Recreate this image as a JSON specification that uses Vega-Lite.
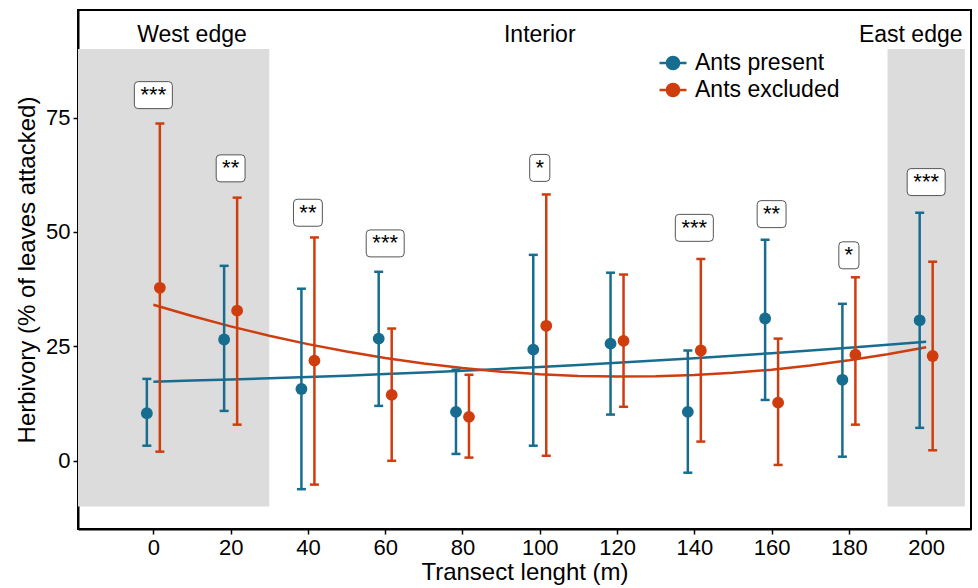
{
  "$schema": "https://vega.github.io/schema/vega-lite/v6.json",
  "width": 893,
  "height": 519,
  "autosize": "none",
  "padding": {"left": 78, "top": 10, "right": 7, "bottom": 59},
  "background": "white",
  "config": {
    "font": "Liberation Sans",
    "view": {"stroke": "black", "strokeWidth": 2},
    "axis": {
      "grid": false,
      "domain": true,
      "domainColor": "black",
      "domainWidth": 2,
      "tickColor": "black",
      "tickWidth": 1.5,
      "tickSize": 5,
      "labelColor": "black",
      "labelFontSize": 22,
      "labelFont": "Liberation Sans",
      "titleFont": "Liberation Sans",
      "titleFontSize": 24,
      "titleFontWeight": "normal",
      "titleColor": "black",
      "zindex": 1
    }
  },
  "datasets": {
    "pts": [
      {"x": 0, "group": "Ants present", "mean": 10.4, "lo": 3.3, "hi": 17.9},
      {"x": 20, "group": "Ants present", "mean": 26.5, "lo": 10.9, "hi": 42.6},
      {"x": 40, "group": "Ants present", "mean": 15.7, "lo": -6.2, "hi": 37.6},
      {"x": 60, "group": "Ants present", "mean": 26.7, "lo": 12.0, "hi": 41.3},
      {"x": 80, "group": "Ants present", "mean": 10.7, "lo": 1.5, "hi": 19.9},
      {"x": 100, "group": "Ants present", "mean": 24.3, "lo": 3.3, "hi": 45.0},
      {"x": 120, "group": "Ants present", "mean": 25.6, "lo": 10.1, "hi": 41.1},
      {"x": 140, "group": "Ants present", "mean": 10.7, "lo": -2.6, "hi": 24.1},
      {"x": 160, "group": "Ants present", "mean": 31.1, "lo": 13.3, "hi": 48.3},
      {"x": 180, "group": "Ants present", "mean": 17.7, "lo": 0.9, "hi": 34.3},
      {"x": 200, "group": "Ants present", "mean": 30.7, "lo": 7.2, "hi": 54.2},
      {"x": 0, "group": "Ants excluded", "mean": 37.8, "lo": 2.0, "hi": 73.7},
      {"x": 20, "group": "Ants excluded", "mean": 32.8, "lo": 7.9, "hi": 57.5},
      {"x": 40, "group": "Ants excluded", "mean": 21.9, "lo": -5.2, "hi": 48.8},
      {"x": 60, "group": "Ants excluded", "mean": 14.4, "lo": 0.0, "hi": 28.9},
      {"x": 80, "group": "Ants excluded", "mean": 9.6, "lo": 0.7, "hi": 18.8},
      {"x": 100, "group": "Ants excluded", "mean": 29.5, "lo": 1.1, "hi": 58.2},
      {"x": 120, "group": "Ants excluded", "mean": 26.2, "lo": 11.8, "hi": 40.7},
      {"x": 140, "group": "Ants excluded", "mean": 24.1, "lo": 4.2, "hi": 44.1},
      {"x": 160, "group": "Ants excluded", "mean": 12.7, "lo": -0.9, "hi": 26.7},
      {"x": 180, "group": "Ants excluded", "mean": 23.2, "lo": 7.9, "hi": 40.1},
      {"x": 200, "group": "Ants excluded", "mean": 22.9, "lo": 2.3, "hi": 43.5}
    ],
    "curve": [
      {"x": 0, "group": "Ants present", "fit": 17.30},
      {"x": 10, "group": "Ants present", "fit": 17.52},
      {"x": 20, "group": "Ants present", "fit": 17.76},
      {"x": 30, "group": "Ants present", "fit": 18.02},
      {"x": 40, "group": "Ants present", "fit": 18.30},
      {"x": 50, "group": "Ants present", "fit": 18.61},
      {"x": 60, "group": "Ants present", "fit": 18.94},
      {"x": 70, "group": "Ants present", "fit": 19.30},
      {"x": 80, "group": "Ants present", "fit": 19.68},
      {"x": 90, "group": "Ants present", "fit": 20.08},
      {"x": 100, "group": "Ants present", "fit": 20.50},
      {"x": 110, "group": "Ants present", "fit": 20.95},
      {"x": 120, "group": "Ants present", "fit": 21.42},
      {"x": 130, "group": "Ants present", "fit": 21.91},
      {"x": 140, "group": "Ants present", "fit": 22.42},
      {"x": 150, "group": "Ants present", "fit": 22.96},
      {"x": 160, "group": "Ants present", "fit": 23.52},
      {"x": 170, "group": "Ants present", "fit": 24.11},
      {"x": 180, "group": "Ants present", "fit": 24.72},
      {"x": 190, "group": "Ants present", "fit": 25.35},
      {"x": 200, "group": "Ants present", "fit": 26.00},
      {"x": 0, "group": "Ants excluded", "fit": 34.10},
      {"x": 10, "group": "Ants excluded", "fit": 31.63},
      {"x": 20, "group": "Ants excluded", "fit": 29.38},
      {"x": 30, "group": "Ants excluded", "fit": 27.33},
      {"x": 40, "group": "Ants excluded", "fit": 25.49},
      {"x": 50, "group": "Ants excluded", "fit": 23.87},
      {"x": 60, "group": "Ants excluded", "fit": 22.46},
      {"x": 70, "group": "Ants excluded", "fit": 21.25},
      {"x": 80, "group": "Ants excluded", "fit": 20.26},
      {"x": 90, "group": "Ants excluded", "fit": 19.48},
      {"x": 100, "group": "Ants excluded", "fit": 18.91},
      {"x": 110, "group": "Ants excluded", "fit": 18.55},
      {"x": 120, "group": "Ants excluded", "fit": 18.40},
      {"x": 130, "group": "Ants excluded", "fit": 18.47},
      {"x": 140, "group": "Ants excluded", "fit": 18.74},
      {"x": 150, "group": "Ants excluded", "fit": 19.23},
      {"x": 160, "group": "Ants excluded", "fit": 19.92},
      {"x": 170, "group": "Ants excluded", "fit": 20.83},
      {"x": 180, "group": "Ants excluded", "fit": 21.95},
      {"x": 190, "group": "Ants excluded", "fit": 23.28},
      {"x": 200, "group": "Ants excluded", "fit": 24.82}
    ],
    "shade": [
      {"x1": -19.5, "x2": 30, "y1": -10, "y2": 90},
      {"x1": 190, "x2": 210, "y1": -10, "y2": 90}
    ],
    "regions": [
      {"x": 10, "y": 91.6, "label": "West edge"},
      {"x": 100, "y": 91.6, "label": "Interior"},
      {"x": 196, "y": 91.6, "label": "East edge"}
    ],
    "sig": [
      {"x": 0, "y": 79.9, "stars": "***"},
      {"x": 20, "y": 63.9, "stars": "**"},
      {"x": 40, "y": 54.2, "stars": "**"},
      {"x": 60, "y": 47.5, "stars": "***"},
      {"x": 100, "y": 64.0, "stars": "*"},
      {"x": 140, "y": 50.9, "stars": "***"},
      {"x": 160, "y": 53.9, "stars": "**"},
      {"x": 180, "y": 44.9, "stars": "*"},
      {"x": 200, "y": 60.9, "stars": "***"}
    ]
  },
  "layer": [
    {
      "data": {"name": "shade"},
      "mark": {"type": "rect", "color": "#dcdcdc"},
      "encoding": {
        "x": {"field": "x1", "type": "quantitative", "scale": {"domain": [-19.5, 211.6], "nice": false, "zero": false}, "axis": {"values": [0, 20, 40, 60, 80, 100, 120, 140, 160, 180, 200], "title": "Transect lenght (m)", "labelPadding": 3, "titlePadding": 2}},
        "x2": {"field": "x2"},
        "y": {"field": "y1", "type": "quantitative", "scale": {"domain": [-14.9, 98.5], "nice": false, "zero": false}, "axis": {"values": [0, 25, 50, 75], "title": "Herbivory (% of leaves attacked)", "labelPadding": 3, "titlePadding": 6}},
        "y2": {"field": "y2"}
      }
    },
    {
      "data": {"name": "regions"},
      "mark": {"type": "text", "fontSize": 23, "align": "center", "baseline": "alphabetic", "color": "black"},
      "encoding": {
        "x": {"field": "x", "type": "quantitative"},
        "y": {"field": "y", "type": "quantitative"},
        "text": {"field": "label"}
      }
    },
    {
      "data": {"name": "curve"},
      "mark": {"type": "line", "strokeWidth": 2.5},
      "encoding": {
        "x": {"field": "x", "type": "quantitative"},
        "y": {"field": "fit", "type": "quantitative"},
        "color": {
          "field": "group", "type": "nominal",
          "scale": {"domain": ["Ants present", "Ants excluded"], "range": ["#176d8f", "#cf3d0e"]},
          "legend": {
            "title": null, "orient": "none", "legendX": 580, "legendY": 38,
            "symbolType": "M-1,0H1M-0.45,0A0.45,0.45 0 1,0 0.45,0A0.45,0.45 0 1,0 -0.45,0Z",
            "symbolSize": 729, "symbolStrokeWidth": 2.5, "labelFontSize": 23, "labelColor": "black",
            "labelOffset": 7, "rowPadding": 0, "padding": 0,
            "encode": {"symbols": {"update": {"stroke": {"scale": "color", "field": "value"}, "fill": {"scale": "color", "field": "value"}, "strokeWidth": {"value": 2.5}, "opacity": {"value": 1}}}}
          }
        },
        "detail": {"field": "group"}
      }
    },
    {
      "data": {"name": "pts"},
      "transform": [{"filter": "datum.group === 'Ants present'"}],
      "layer": [
        {
          "mark": {"type": "rule", "strokeWidth": 2.5, "xOffset": -6.5},
          "encoding": {
            "x": {"field": "x", "type": "quantitative"},
            "y": {"field": "lo", "type": "quantitative"},
            "y2": {"field": "hi"},
            "color": {"field": "group", "type": "nominal"}
          }
        },
        {
          "mark": {"type": "tick", "orient": "horizontal", "size": 9, "thickness": 2.5, "opacity": 1, "xOffset": -6.5},
          "encoding": {
            "x": {"field": "x", "type": "quantitative"},
            "y": {"field": "lo", "type": "quantitative"},
            "color": {"field": "group", "type": "nominal"}
          }
        },
        {
          "mark": {"type": "tick", "orient": "horizontal", "size": 9, "thickness": 2.5, "opacity": 1, "xOffset": -6.5},
          "encoding": {
            "x": {"field": "x", "type": "quantitative"},
            "y": {"field": "hi", "type": "quantitative"},
            "color": {"field": "group", "type": "nominal"}
          }
        },
        {
          "mark": {"type": "point", "filled": true, "opacity": 1, "size": 140, "xOffset": -6.5},
          "encoding": {
            "x": {"field": "x", "type": "quantitative"},
            "y": {"field": "mean", "type": "quantitative"},
            "color": {"field": "group", "type": "nominal"}
          }
        }
      ]
    },
    {
      "data": {"name": "pts"},
      "transform": [{"filter": "datum.group === 'Ants excluded'"}],
      "layer": [
        {
          "mark": {"type": "rule", "strokeWidth": 2.5, "xOffset": 6.5},
          "encoding": {
            "x": {"field": "x", "type": "quantitative"},
            "y": {"field": "lo", "type": "quantitative"},
            "y2": {"field": "hi"},
            "color": {"field": "group", "type": "nominal"}
          }
        },
        {
          "mark": {"type": "tick", "orient": "horizontal", "size": 9, "thickness": 2.5, "opacity": 1, "xOffset": 6.5},
          "encoding": {
            "x": {"field": "x", "type": "quantitative"},
            "y": {"field": "lo", "type": "quantitative"},
            "color": {"field": "group", "type": "nominal"}
          }
        },
        {
          "mark": {"type": "tick", "orient": "horizontal", "size": 9, "thickness": 2.5, "opacity": 1, "xOffset": 6.5},
          "encoding": {
            "x": {"field": "x", "type": "quantitative"},
            "y": {"field": "hi", "type": "quantitative"},
            "color": {"field": "group", "type": "nominal"}
          }
        },
        {
          "mark": {"type": "point", "filled": true, "opacity": 1, "size": 140, "xOffset": 6.5},
          "encoding": {
            "x": {"field": "x", "type": "quantitative"},
            "y": {"field": "mean", "type": "quantitative"},
            "color": {"field": "group", "type": "nominal"}
          }
        }
      ]
    },
    {
      "data": {"name": "sig"},
      "mark": {"type": "point", "filled": true, "fill": "white", "stroke": "#555555", "strokeWidth": 1, "opacity": 1, "size": 1444},
      "encoding": {
        "x": {"field": "x", "type": "quantitative"},
        "y": {"field": "y", "type": "quantitative"},
        "shape": {
          "field": "stars", "type": "nominal", "legend": null,
          "scale": {
            "domain": ["*", "**", "***"],
            "range": [
              "M-0.33,-0.71H0.33Q0.53,-0.71 0.53,-0.51V0.51Q0.53,0.71 0.33,0.71H-0.33Q-0.53,0.71 -0.53,0.51V-0.51Q-0.53,-0.71 -0.33,-0.71Z",
              "M-0.56,-0.71H0.56Q0.76,-0.71 0.76,-0.51V0.51Q0.76,0.71 0.56,0.71H-0.56Q-0.76,0.71 -0.76,0.51V-0.51Q-0.76,-0.71 -0.56,-0.71Z",
              "M-0.8,-0.71H0.8Q1,-0.71 1,-0.51V0.51Q1,0.71 0.8,0.71H-0.8Q-1,0.71 -1,0.51V-0.51Q-1,-0.71 -0.8,-0.71Z"
            ]
          }
        }
      }
    },
    {
      "data": {"name": "sig"},
      "mark": {"type": "text", "fontSize": 22, "align": "center", "baseline": "middle", "color": "black"},
      "encoding": {
        "x": {"field": "x", "type": "quantitative"},
        "y": {"field": "y", "type": "quantitative"},
        "text": {"field": "stars"}
      }
    }
  ]
}
